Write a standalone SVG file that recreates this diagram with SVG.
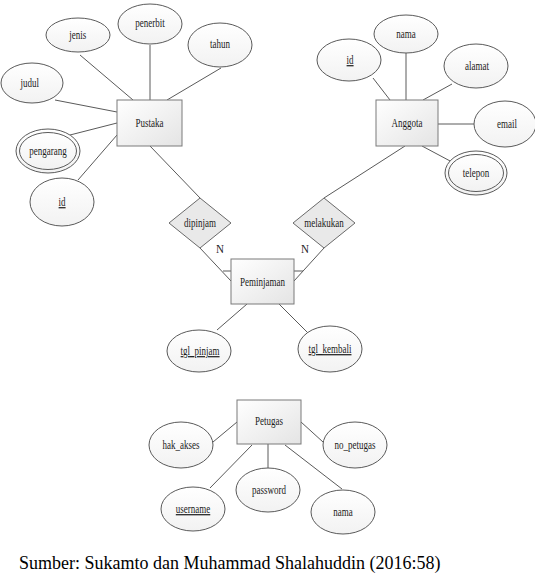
<svg xmlns="http://www.w3.org/2000/svg" width="535" height="574" viewBox="0 0 535 574">
<defs>
<linearGradient id="gEnt" x1="0" y1="0" x2="1" y2="1">
<stop offset="0" stop-color="#ffffff"/>
<stop offset="1" stop-color="#e4e4e4"/>
</linearGradient>
<linearGradient id="gAttr" x1="0" y1="0" x2="0" y2="1">
<stop offset="0" stop-color="#ffffff"/>
<stop offset="1" stop-color="#f2f2f2"/>
</linearGradient>
</defs>
<style>
.ent{fill:url(#gEnt);stroke:#7a7a7a;stroke-width:1}
.attr{fill:url(#gAttr);stroke:#5a5a5a;stroke-width:1}
.rel{fill:#e9e9e9;stroke:#6a6a6a;stroke-width:1}
.conn line{stroke:#5a5a5a;stroke-width:1}
text{font-family:"Liberation Serif","Times New Roman",serif;font-size:12px;fill:#1a1a1a;text-anchor:middle;transform-box:fill-box;transform-origin:center;transform:scaleX(0.75)}
.u{text-decoration:underline}
.n{font-size:13px;transform:scaleX(0.85)}
.cap{font-size:18px;text-anchor:start;fill:#000;transform:none}
</style>
<rect width="535" height="574" fill="#ffffff"/>
<g class="conn" id="connectors">
<line x1="80" y1="55" x2="133" y2="100"/>
<line x1="150" y1="45" x2="150" y2="100"/>
<line x1="221" y1="68" x2="167" y2="100"/>
<line x1="55" y1="100" x2="117" y2="112"/>
<line x1="70" y1="135" x2="117" y2="123"/>
<line x1="78" y1="180" x2="117" y2="135"/>
<line x1="150" y1="146" x2="200" y2="198"/>
<line x1="373" y1="78" x2="390" y2="100"/>
<line x1="406" y1="53" x2="406" y2="100"/>
<line x1="452" y1="84" x2="423" y2="100"/>
<line x1="438" y1="124" x2="474" y2="124"/>
<line x1="422" y1="146" x2="452" y2="162"/>
<line x1="405" y1="146" x2="324" y2="198"/>
<line x1="200" y1="248" x2="231" y2="281"/>
<line x1="223" y1="271" x2="231" y2="271"/>
<line x1="324" y1="248" x2="294" y2="281"/>
<line x1="294" y1="271" x2="303" y2="271"/>
<line x1="217" y1="330" x2="247" y2="304"/>
<line x1="308" y1="333" x2="279" y2="304"/>
<line x1="213" y1="442" x2="237" y2="422"/>
<line x1="323" y1="442" x2="301" y2="422"/>
<line x1="268" y1="468" x2="268" y2="444"/>
<line x1="210" y1="488" x2="252" y2="445"/>
<line x1="342" y1="489" x2="285" y2="445"/>
</g>
<g id="pustaka"><rect class="ent" x="117" y="100" width="65" height="46"/><text x="149.5" y="127">Pustaka</text></g>
<g id="jenis"><ellipse class="attr" cx="78" cy="35" rx="32" ry="17"/><text x="78" y="39">jenis</text></g>
<g id="penerbit"><ellipse class="attr" cx="150" cy="24" rx="32" ry="20"/><text x="150" y="27">penerbit</text></g>
<g id="tahun"><ellipse class="attr" cx="220" cy="45" rx="32" ry="22"/><text x="220" y="48">tahun</text></g>
<g id="judul"><ellipse class="attr" cx="32" cy="83" rx="31" ry="20"/><text x="30" y="87">judul</text></g>
<g id="pengarang"><ellipse class="attr" cx="48" cy="151" rx="32" ry="22"/><ellipse class="attr" cx="48" cy="151" rx="28.5" ry="18.5"/><text x="48" y="155">pengarang</text></g>
<g id="id_pustaka"><ellipse class="attr" cx="62" cy="202" rx="32" ry="24"/><text class="u" x="62" y="206">id</text></g>
<g id="anggota"><rect class="ent" x="376" y="100" width="62" height="46"/><text x="407" y="127">Anggota</text></g>
<g id="id_anggota"><ellipse class="attr" cx="349" cy="60" rx="32" ry="21"/><text class="u" x="350" y="64">id</text></g>
<g id="nama_anggota"><ellipse class="attr" cx="406" cy="34" rx="32" ry="19"/><text x="406" y="38">nama</text></g>
<g id="alamat"><ellipse class="attr" cx="476" cy="66" rx="32" ry="22"/><text x="477" y="70">alamat</text></g>
<g id="email"><ellipse class="attr" cx="505" cy="124" rx="31" ry="23"/><text x="507" y="128">email</text></g>
<g id="telepon"><ellipse class="attr" cx="476" cy="173" rx="31" ry="22"/><ellipse class="attr" cx="476" cy="173" rx="27.5" ry="18.5"/><text x="476" y="177">telepon</text></g>
<g id="dipinjam"><polygon class="rel" points="200,198 231,223 200,248 169,223"/><text x="200" y="227">dipinjam</text></g>
<g id="melakukan"><polygon class="rel" points="324,198 355,223 324,248 293,223"/><text x="324" y="227">melakukan</text></g>
<g id="cardinality"><text class="n" x="220" y="253">N</text><text class="n" x="305" y="253">N</text></g>
<g id="peminjaman"><rect class="ent" x="231" y="259" width="63" height="45"/><text x="262.5" y="286">Peminjaman</text></g>
<g id="tgl_pinjam"><ellipse class="attr" cx="199" cy="351" rx="32" ry="21"/><text class="u" x="200" y="355">tgl_pinjam</text></g>
<g id="tgl_kembali"><ellipse class="attr" cx="330" cy="349" rx="32" ry="23"/><text class="u" x="330" y="353">tgl_kembali</text></g>
<g id="petugas"><rect class="ent" x="237" y="400" width="64" height="44"/><text x="269" y="425">Petugas</text></g>
<g id="hak_akses"><ellipse class="attr" cx="181" cy="445" rx="32" ry="23"/><text x="181" y="449">hak_akses</text></g>
<g id="no_petugas"><ellipse class="attr" cx="355" cy="445" rx="32" ry="23"/><text x="355" y="449">no_petugas</text></g>
<g id="password"><ellipse class="attr" cx="268" cy="490" rx="32" ry="22"/><text x="269" y="494">password</text></g>
<g id="username"><ellipse class="attr" cx="193" cy="509" rx="32" ry="22"/><text class="u" x="193" y="513">username</text></g>
<g id="nama_petugas"><ellipse class="attr" cx="343" cy="512" rx="32" ry="22"/><text x="343" y="516">nama</text></g>
<text class="cap" x="19" y="569">Sumber: Sukamto dan Muhammad Shalahuddin (2016:58)</text>
</svg>
